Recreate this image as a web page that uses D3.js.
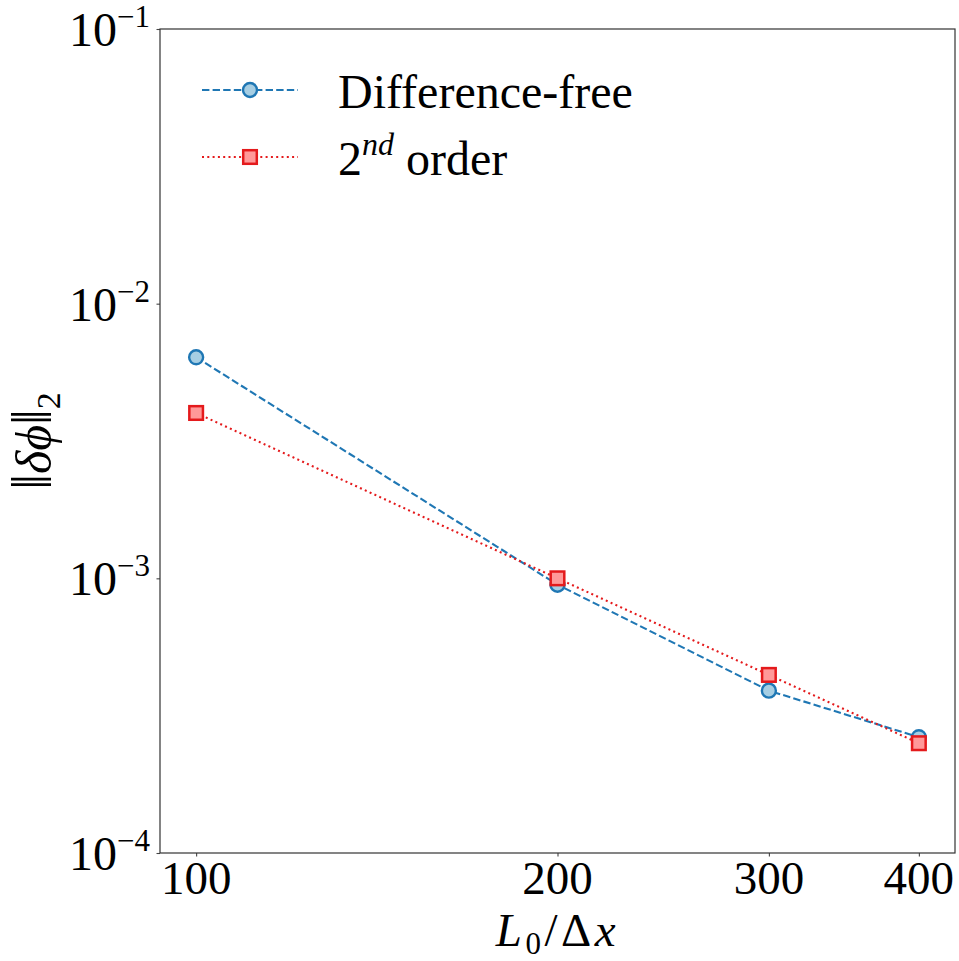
<!DOCTYPE html>
<html>
<head>
<meta charset="utf-8">
<script src="https://cdn.jsdelivr.net/npm/d3@7"></script>
<style>
  html, body { margin: 0; padding: 0; background: #fff; }
  svg { display: block; }
  text { font-family: "Liberation Serif", "DejaVu Serif", serif; fill: #000; }
</style>
</head>
<body>
<script>
// Grid resolutions and L2 errors of the two schemes
const resolutions = [100, 200, 300, 400];
const diffFreeErr = [0.00638, 0.000948, 0.00039, 0.000264];
const secondOrderErr = [0.0040, 0.0010, 0.000445, 0.000251];
const xTickValues = [100, 200, 300, 400];
const yTickExponents = [-1, -2, -3, -4];

const W = 959, H = 961;
const plotL = 160, plotR = 955, plotT = 29, plotB = 853;

const svg = d3.select("body").append("svg")
  .attr("width", W).attr("height", H);

// log-log scales with 5% padding in log space on x
const xDomain = [100 / Math.pow(10, 0.0301), 400 * Math.pow(10, 0.0301)];
const x = d3.scaleLog().domain(xDomain).range([plotL, plotR]);
const y = d3.scaleLog().domain([1e-4, 1e-1]).range([plotB, plotT]);

const tickLen = 3.5;

// axes
const xAxis = d3.axisBottom(x).tickValues(xTickValues).tickSize(tickLen).tickFormat("");
const yAxis = d3.axisLeft(y).tickValues(yTickExponents.map(e => Math.pow(10, e))).tickSize(tickLen).tickFormat("");

const gx = svg.append("g").attr("transform", `translate(0,${plotB})`).call(xAxis);
const gy = svg.append("g").attr("transform", `translate(${plotL},0)`).call(yAxis);
[gx, gy].forEach(g => {
  g.select(".domain").remove();
  g.selectAll(".tick line").attr("stroke", "#444").attr("stroke-width", 1.1);
});

// frame
svg.append("rect")
  .attr("x", plotL).attr("y", plotT)
  .attr("width", plotR - plotL).attr("height", plotB - plotT)
  .attr("fill", "none").attr("stroke", "#333").attr("stroke-width", 1.2);

// x tick labels
svg.append("g").selectAll("text").data(xTickValues).join("text")
  .attr("x", d => x(d)).attr("y", plotB + 41)
  .attr("text-anchor", "middle").attr("font-size", 47)
  .text(d => d);

// y tick labels: 10^{e}
const yl = svg.append("g").selectAll("text").data(yTickExponents).join("text")
  .attr("x", plotL - 10).attr("y", d => y(Math.pow(10, d)) + 17)
  .attr("text-anchor", "end").attr("font-size", 48);
yl.append("tspan").text("10");
yl.append("tspan").attr("font-size", 31).attr("dy", -19).text(d => "\u2212" + Math.abs(d));

// axis titles
const xt = svg.append("text")
  .attr("x", (plotL + plotR) / 2).attr("y", 946)
  .attr("text-anchor", "middle").attr("font-size", 47)
  .attr("letter-spacing", 3.5);
xt.append("tspan").attr("font-style", "italic").text("L");
xt.append("tspan").attr("font-size", 31).attr("dy", 8).text("0");
xt.append("tspan").attr("dy", -8).text("/\u0394");
xt.append("tspan").attr("font-style", "italic").text("x");

const yt = svg.append("text")
  .attr("transform", `translate(51,${(plotT + plotB) / 2}) rotate(-90)`)
  .attr("text-anchor", "middle").attr("font-size", 50);
yt.append("tspan").attr("font-size", 56).text("\u2016");
yt.append("tspan").attr("font-style", "italic").text("\u03b4\u03d5");
yt.append("tspan").attr("font-size", 56).text("\u2016");
yt.append("tspan").attr("font-size", 34).attr("dy", 9).text("2");

// series
const blue = "#1f77b4", blueFill = "#a6cee3";
const red = "#e41a1c", redFill = "#ff9999";

const line = d3.line().x(d => x(d[0])).y(d => y(d[1]));
const dfData = resolutions.map((r, i) => [r, diffFreeErr[i]]);
const soData = resolutions.map((r, i) => [r, secondOrderErr[i]]);

// Difference-free: dashed line with circles
svg.append("path").datum(dfData).attr("d", line)
  .attr("fill", "none").attr("stroke", blue).attr("stroke-width", 2.1)
  .attr("stroke-dasharray", "7.4,3.2");
svg.append("g").selectAll("circle").data(dfData).join("circle")
  .attr("cx", d => x(d[0])).attr("cy", d => y(d[1])).attr("r", 7)
  .attr("fill", blueFill).attr("stroke", blue).attr("stroke-width", 2.4);

// 2nd order: dotted line with squares
svg.append("path").datum(soData).attr("d", line)
  .attr("fill", "none").attr("stroke", red).attr("stroke-width", 2.1)
  .attr("stroke-dasharray", "2,3.3");
svg.append("g").selectAll("rect").data(soData).join("rect")
  .attr("x", d => x(d[0]) - 6.8).attr("y", d => y(d[1]) - 6.8)
  .attr("width", 13.6).attr("height", 13.6)
  .attr("fill", redFill).attr("stroke", red).attr("stroke-width", 2.5);

// legend
const lg = svg.append("g");
const row1 = 90, row2 = 157, lx0 = 202, lx1 = 298, lxm = 250, tx = 338;
lg.append("line").attr("x1", lx0).attr("x2", lx1).attr("y1", row1).attr("y2", row1)
  .attr("stroke", blue).attr("stroke-width", 2.1).attr("stroke-dasharray", "7.4,3.2");
lg.append("circle").attr("cx", lxm).attr("cy", row1).attr("r", 7)
  .attr("fill", blueFill).attr("stroke", blue).attr("stroke-width", 2.4);
lg.append("text").attr("x", tx).attr("y", row1 + 18).attr("font-size", 48).text("Difference-free");

lg.append("line").attr("x1", lx0).attr("x2", lx1).attr("y1", row2).attr("y2", row2)
  .attr("stroke", red).attr("stroke-width", 2.1).attr("stroke-dasharray", "2,3.3");
lg.append("rect").attr("x", lxm - 6.8).attr("y", row2 - 6.8).attr("width", 13.6).attr("height", 13.6)
  .attr("fill", redFill).attr("stroke", red).attr("stroke-width", 2.5);
const l2 = lg.append("text").attr("x", tx).attr("y", row2 + 18).attr("font-size", 48);
l2.append("tspan").text("2");
l2.append("tspan").attr("font-size", 32).attr("font-style", "italic").attr("dy", -20).text("nd");
l2.append("tspan").attr("dy", 20).text(" order");
</script>
</body>
</html>
